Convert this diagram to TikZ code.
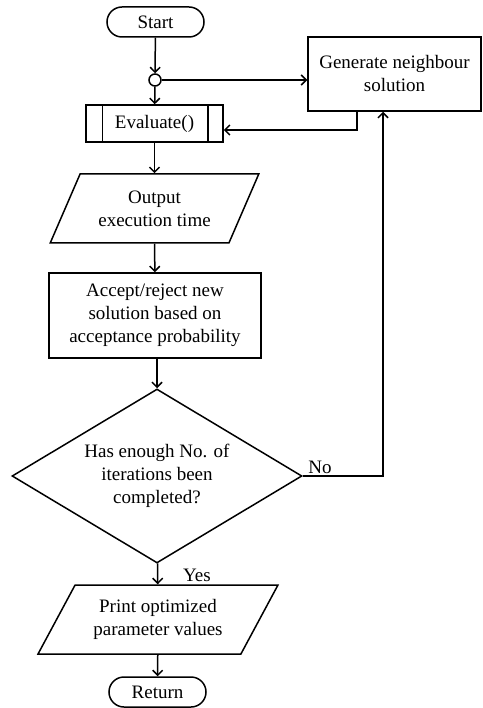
\documentclass[tikz,border=0pt]{standalone}
\usepackage{fontspec}
\setmainfont{Liberation Serif}
\usetikzlibrary{positioning,arrows.meta,shapes.geometric}
\tikzset{
  term/.style={rectangle,draw,rounded corners=15pt,minimum width=97pt,
               minimum height=30pt,inner sep=1pt},
  junc/.style={circle,draw,fill=white,minimum size=12pt,inner sep=0pt},
  proc/.style={rectangle,draw,align=center,inner sep=2pt},
  subproc/.style={proc,minimum width=137pt,minimum height=37pt},
  io/.style={trapezium,draw,trapezium stretches=true,align=center,inner sep=1pt},
  decision/.style={diamond,draw,align=center,inner sep=0pt,aspect=1.67,
                   minimum width=290pt,minimum height=174pt},
  edge/.style={-{Straight Barb[length=5pt,width=10pt]},line width=1.5pt},
}

\begin{document}
\begin{tikzpicture}[x=1pt,y=-1pt,line width=1.5pt,font=\fontsize{19}{23}\selectfont\rmfamily]
\useasboundingbox (0,0) rectangle (482,708);
\node[term] (start) at (155.5,22) {Start};
\node[junc] (junc) at (155,80) {};
\node[proc,minimum width=173pt,minimum height=74pt] (gen) at (394.5,74)
  {Generate neighbour\\solution};
\node[subproc] (eval) at (154.5,123.5) {Evaluate()};
\draw ([xshift=17pt]eval.north west) -- ([xshift=17pt]eval.south west)
      ([xshift=-16pt]eval.north east) -- ([xshift=-16pt]eval.south east);
\node[io,minimum width=209pt,minimum height=69pt,
      trapezium left angle=58.7,trapezium right angle=121.3] (out) at (154.5,208.5)
  {Output\\execution time};
\node[proc,minimum width=212pt,minimum height=85pt] (acc) at (155,315.5)
  {Accept/reject new\\solution based on\\acceptance probability};
\node[decision] (dec) at (157,476) {Has enough No. of\\iterations been\\completed?};
\node[io,minimum width=240pt,minimum height=69pt,
      trapezium left angle=55.2,trapezium right angle=124.8] (prn) at (158,619.5)
  {Print optimized\\parameter values};
\node[term] (ret) at (157.5,692) {Return};
\coordinate (back) at (357,130);
\coordinate (up) at (383,476);

\draw[edge] (start) -- (junc);
\draw[edge] (junc) -- (eval);
\draw[edge] (junc) -- (junc -| gen.west);
\draw[edge] (back |- gen.south) -- (back) -- (back -| eval.east);
\draw[edge] (eval) -- (out);
\draw[edge] (out) -- (acc);
\draw[edge] (dec.north |- acc.south) -- (dec);
\draw[edge] (dec) -- (up) -- (up |- gen.south);
\draw[edge] (dec) -- (prn);
\draw[edge] (prn) -- (ret);
\node (no) at (320,467) {No};
\node (yes) at (197,575) {Yes};
\end{tikzpicture}
\end{document}
